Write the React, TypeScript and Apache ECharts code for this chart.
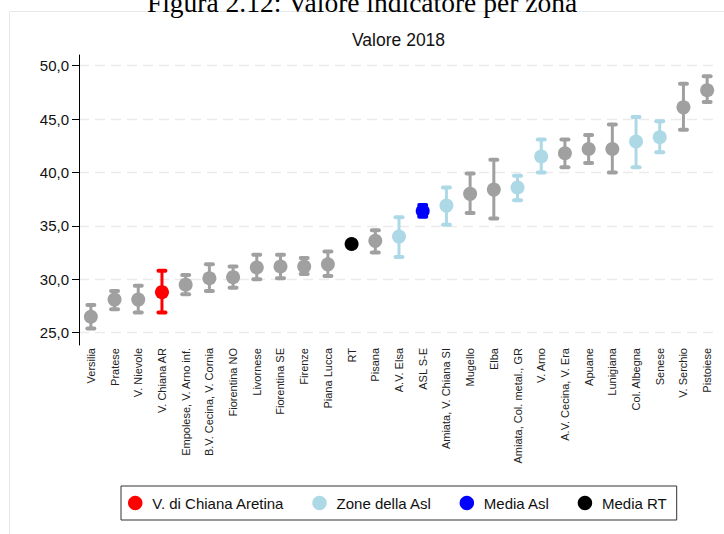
import React, { useEffect, useRef } from 'react';
import * as echarts from 'echarts';

const categories = [
  'Versilia', 'Pratese', 'V. Nievole', 'V. Chiana AR', 'Empolese, V. Arno inf.',
  'B.V. Cecina, V. Cornia', 'Fiorentina NO', 'Livornese', 'Fiorentina SE', 'Firenze',
  'Piana Lucca', 'RT', 'Pisana', 'A.V. Elsa', 'ASL S-E', 'Amiata, V. Chiana SI',
  'Mugello', 'Elba', 'Amiata, Col. metal., GR', 'V. Arno', 'A.V. Cecina, V. Era',
  'Apuane', 'Lunigiana', 'Col. Albegna', 'Senese', 'V. Serchio', 'Pistoiese',
];
const values = [26.5, 28.1, 28.1, 28.8, 29.5, 30.1, 30.2, 31.1, 31.2, 31.2, 31.4, 33.3, 33.6, 34.0, 36.4, 36.9, 38.0, 38.4, 38.6, 41.5, 41.8, 42.2, 42.2, 42.9, 43.3, 46.1, 47.7];
const upper = [27.6, 28.9, 29.4, 30.8, 30.4, 31.4, 31.2, 32.3, 32.3, 32.0, 32.6, null, 34.6, 35.8, 36.95, 38.6, 39.9, 41.2, 39.7, 43.1, 43.1, 43.5, 44.5, 45.2, 44.8, 48.3, 49.0];
const lower = [25.4, 27.2, 26.9, 26.9, 28.6, 28.9, 29.2, 30.0, 30.1, 30.5, 30.3, null, 32.5, 32.1, 35.85, 35.1, 36.2, 35.7, 37.4, 40.0, 40.5, 40.9, 40.0, 40.5, 41.9, 44.0, 46.6];
const groups = [
  'zona', 'zona', 'zona', 'target', 'zona', 'zona', 'zona', 'zona', 'zona', 'zona',
  'zona', 'rt', 'zona', 'asl', 'aslmean', 'asl', 'zona', 'zona', 'asl', 'asl',
  'zona', 'zona', 'zona', 'asl', 'asl', 'zona', 'zona',
];
const yTicks = [25, 30, 35, 40, 45, 50];
const legendOrder = ['target', 'asl', 'aslmean', 'rt'];

const groupColors: Record<string, string> = {
  zona: '#a0a0a0',
  target: '#ff0000',
  asl: '#add8e6',
  aslmean: '#0000ff',
  rt: '#000000',
};
const groupNames: Record<string, string> = {
  zona: 'Zone',
  target: 'V. di Chiana Aretina',
  asl: 'Zone della Asl',
  aslmean: 'Media Asl',
  rt: 'Media RT',
};

export default function App() {
  const ref = useRef<HTMLDivElement>(null);
  useEffect(() => {
    if (!ref.current) return;
    const chart = echarts.init(ref.current, null, { renderer: 'svg' });
    const font = 'Liberation Sans, Arial, sans-serif';
    const scatterSeries = ['zona', 'target', 'asl', 'aslmean', 'rt'].map((g) => ({
      type: 'scatter',
      name: groupNames[g],
      data: values.map((v, i) => (groups[i] === g ? v : '-')),
      symbol: 'circle',
      symbolSize: 14,
      itemStyle: { color: groupColors[g], opacity: 1 },
      z: 3,
      silent: true,
    }));
    const option: any = {
      animation: false,
      backgroundColor: '#ffffff',
      textStyle: { fontFamily: font },
      title: {
        text: 'Valore 2018',
        left: 352,
        top: 31,
        padding: 0,
        textStyle: { fontSize: 17.5, fontWeight: 'normal', color: '#111', fontFamily: font },
      },
      graphic: [
        {
          type: 'rect',
          shape: { x: 9.5, y: 11.5, width: 800, height: 600 },
          style: { fill: 'none', stroke: '#e4eaea', lineWidth: 1 },
          silent: true,
          z: -10,
        },
        {
          type: 'text',
          x: 362,
          y: 2,
          style: {
            text: 'Figura 2.12: Valore indicatore per zona',
            font: '27.5px "Liberation Serif", "DejaVu Serif", serif',
            fill: '#000',
            align: 'center',
            verticalAlign: 'middle',
          },
          silent: true,
        },
      ],
      grid: { left: 79, right: 5, top: 55, bottom: 189, containLabel: false },
      legend: {
        data: legendOrder.map((g) => groupNames[g]),
        left: 121,
        top: 486,
        orient: 'horizontal',
        icon: 'circle',
        itemWidth: 24,
        itemHeight: 14.5,
        itemGap: 28,
        borderColor: '#333',
        borderWidth: 1,
        padding: [9.5, 10, 9.5, 7],
        textStyle: { fontSize: 15, color: '#111', fontFamily: font },
        selectedMode: false,
      },
      xAxis: {
        type: 'category',
        data: categories,
        boundaryGap: true,
        axisLine: { show: false },
        axisTick: { show: false },
        axisLabel: {
          rotate: 90,
          interval: 0,
          margin: 3,
          fontSize: 11,
          color: '#222',
          fontFamily: font,
        },
        splitLine: { show: false },
      },
      yAxis: {
        type: 'value',
        min: 23.85,
        max: 51,
        axisLine: { show: true, lineStyle: { color: '#000', width: 1 } },
        axisTick: { show: true, length: 7, customValues: yTicks, lineStyle: { color: '#000', width: 1 } },
        axisLabel: {
          customValues: yTicks,
          margin: 10,
          fontSize: 15,
          color: '#111',
          fontFamily: font,
          formatter: (v: number) => v.toFixed(1).replace('.', ','),
        },
        splitLine: {
          show: true,
          lineStyle: { color: '#ebebeb', width: 1.3, type: [10, 6] },
        },
      },
      series: [
        {
          type: 'custom',
          name: 'errori',
          data: values.map((v, i) => [i, v]),
          encode: { x: 0, y: 1 },
          z: 2,
          silent: true,
          renderItem: (params: any, api: any) => {
            const i = params.dataIndex;
            if (upper[i] == null || lower[i] == null) return null;
            const hi = api.coord([i, upper[i]]);
            const lo = api.coord([i, lower[i]]);
            const color = groupColors[groups[i]];
            const cap = 3.5;
            return {
              type: 'group',
              children: [
                {
                  type: 'line',
                  shape: { x1: hi[0], y1: hi[1], x2: lo[0], y2: lo[1] },
                  style: { stroke: color, lineWidth: 3 },
                },
                {
                  type: 'line',
                  shape: { x1: hi[0] - cap, y1: hi[1], x2: hi[0] + cap, y2: hi[1] },
                  style: { stroke: color, lineWidth: 4, lineCap: 'round' },
                },
                {
                  type: 'line',
                  shape: { x1: lo[0] - cap, y1: lo[1], x2: lo[0] + cap, y2: lo[1] },
                  style: { stroke: color, lineWidth: 4, lineCap: 'round' },
                },
              ],
            };
          },
        },
        ...scatterSeries,
      ],
    };
    chart.setOption(option);
    return () => chart.dispose();
  }, []);
  return (
    <div
      ref={ref}
      style={{ position: 'fixed', left: 0, top: 0, width: 724, height: 534, background: '#fff' }}
    />
  );
}
